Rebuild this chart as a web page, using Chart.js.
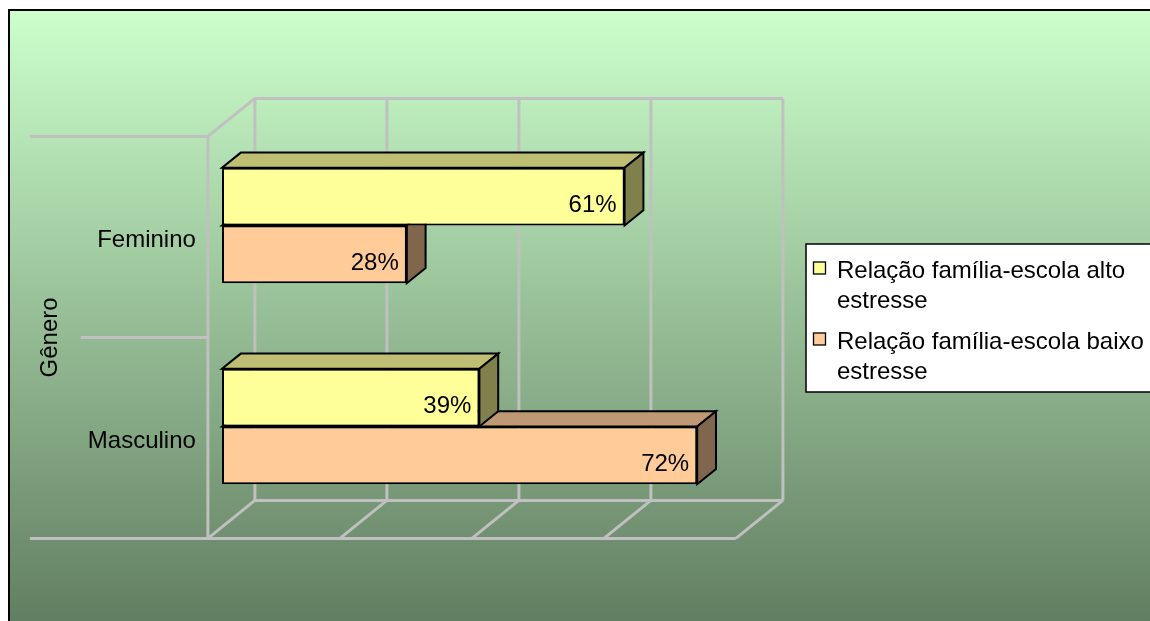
<!DOCTYPE html>
<html>
<head>
<meta charset="utf-8">
<script src="https://cdn.jsdelivr.net/npm/chart.js@4.4.1/dist/chart.umd.min.js"></script>
<style>
  html, body { margin: 0; padding: 0; background: #fff; overflow: hidden; }
  canvas { display: block; }
</style>
</head>
<body>
<canvas id="generoChart" width="1150" height="621"></canvas>
<script>
const categories = ["Feminino", "Masculino"];
const altoEstresse = [61, 39];
const baixoEstresse = [28, 72];
const seriesNames = ["Relação família-escola alto estresse", "Relação família-escola baixo estresse"];
const axisTicks = [0, 20, 40, 60, 80];
const axisTitle = "Gênero";

const FONT = "24px 'Liberation Sans', Arial, sans-serif";
const GRID = "#c0c0c0";

// depth of the 3D box and where the bars sit inside it
const depth = { dx: 47, dy: -38 };
const barFront = 0.3;
const barBack = 0.7;

const faces = [
	{ front: "#ffff99", top: "#bfbf73", side: "#80804d" },
	{ front: "#ffcc99", top: "#bf9973", side: "#80664d" }
];

function shift(p, f) {
	return { x: p.x + depth.dx * f, y: p.y + depth.dy * f };
}

function poly(ctx, pts, fill, stroke, width) {
	ctx.beginPath();
	ctx.moveTo(pts[0].x, pts[0].y);
	for (let i = 1; i < pts.length; i++) ctx.lineTo(pts[i].x, pts[i].y);
	if (fill) {
		ctx.closePath();
		ctx.fillStyle = fill;
		ctx.fill();
	}
	ctx.strokeStyle = stroke;
	ctx.lineWidth = width;
	ctx.stroke();
}

const backdrop = {
	id: "backdrop",
	beforeDraw(chart) {
		const ctx = chart.ctx;
		ctx.save();
		ctx.fillStyle = "#ffffff";
		ctx.fillRect(0, 0, chart.width, chart.height);
		const g = ctx.createLinearGradient(0, 10, 0, 621);
		g.addColorStop(0, "#ccffcc");
		g.addColorStop(1, "#627e62");
		ctx.fillStyle = g;
		ctx.fillRect(9, 10, chart.width, chart.height);
		// chart frame: only the left and top edges fall inside the canvas
		poly(ctx, [{ x: 9, y: chart.height }, { x: 9, y: 10 }, { x: chart.width, y: 10 }], null, "#000", 2);
		ctx.restore();
	}
};

// walls, floor and gridlines of the 3D box
const box3d = {
	id: "box3d",
	beforeDatasetsDraw(chart) {
		const ctx = chart.ctx;
		const xs = chart.scales.x, a = chart.chartArea;
		const fTop = shift({ x: 0, y: a.top }, -barFront).y;
		const fBot = shift({ x: 0, y: a.bottom }, -barFront).y;
		const fx = v => xs.getPixelForValue(v) - depth.dx * barFront;
		const x0 = fx(axisTicks[0]);
		const xN = fx(axisTicks[axisTicks.length - 1]);
		ctx.save();
		ctx.lineCap = "butt";
		// back wall verticals and floor slants
		axisTicks.forEach(t => {
			const f = { x: fx(t), y: fBot };
			const b = shift(f, 1);
			poly(ctx, [{ x: b.x, y: fTop + depth.dy }, b], null, GRID, 3);
			poly(ctx, [f, b], null, GRID, 3);
		});
		poly(ctx, [{ x: x0 + depth.dx, y: fTop + depth.dy }, { x: xN + depth.dx, y: fTop + depth.dy }], null, GRID, 3);
		poly(ctx, [{ x: x0 + depth.dx, y: fBot + depth.dy }, { x: xN + depth.dx, y: fBot + depth.dy }], null, GRID, 3);
		poly(ctx, [{ x: x0, y: fTop }, { x: x0 + depth.dx, y: fTop + depth.dy }], null, GRID, 3);
		poly(ctx, [{ x: x0, y: fTop }, { x: x0, y: fBot }], null, GRID, 3);
		poly(ctx, [{ x: 30, y: fBot }, { x: xN, y: fBot }], null, GRID, 3);
		// category dividers on the left
		const lead = [178, 127, 178];
		const mid = (fTop + fBot) / 2;
		[fTop, mid, fBot].forEach((y, i) => {
			poly(ctx, [{ x: x0 - lead[i], y: y }, { x: x0, y: y }], null, GRID, 3);
		});
		// category labels
		ctx.fillStyle = "#000";
		ctx.font = FONT;
		ctx.textAlign = "right";
		ctx.textBaseline = "middle";
		chart.data.labels.forEach((lab, i) => {
			const y = chart.scales.y.getPixelForValue(i) - depth.dy * barFront + 3;
			ctx.fillText(lab, x0 - 12, y);
		});
		// axis title
		ctx.translate(50, mid);
		ctx.rotate(-Math.PI / 2);
		ctx.textAlign = "center";
		ctx.fillText(axisTitle, 0, 0);
		ctx.restore();
	},
	beforeDatasetDraw(chart, args) {
		const ctx = chart.ctx;
		const c = faces[args.index];
		const d = barBack - barFront;
		ctx.save();
		ctx.lineJoin = "miter";
		args.meta.data.forEach(bar => {
			const top = bar.y - bar.height / 2, bot = bar.y + bar.height / 2;
			const tl = { x: bar.base, y: top }, tr = { x: bar.x, y: top }, br = { x: bar.x, y: bot };
			poly(ctx, [tl, tr, shift(tr, d), shift(tl, d)], c.top, "#000", 2);
			poly(ctx, [tr, shift(tr, d), shift(br, d), br], c.side, "#000", 2);
		});
		ctx.restore();
	},
	afterDatasetsDraw(chart) {
		const ctx = chart.ctx;
		ctx.save();
		ctx.fillStyle = "#000";
		ctx.font = FONT;
		ctx.textAlign = "right";
		ctx.textBaseline = "middle";
		chart.data.datasets.forEach((ds, di) => {
			chart.getDatasetMeta(di).data.forEach((bar, i) => {
				ctx.fillText(ds.data[i] + "%", bar.x - 8, bar.y + 9);
			});
		});
		ctx.restore();
	}
};

// legend box with wrapped series names
const sideLegend = {
	id: "sideLegend",
	afterDraw(chart) {
		const ctx = chart.ctx;
		const bx = 806, by = 244, bw = 360, bh = 148;
		ctx.save();
		ctx.fillStyle = "#fff";
		ctx.fillRect(bx, by, bw, bh);
		poly(ctx, [{ x: bx + bw, y: by }, { x: bx, y: by }, { x: bx, y: by + bh }, { x: bx + bw, y: by + bh }], null, "#000", 1.5);
		ctx.font = FONT;
		ctx.textAlign = "left";
		ctx.textBaseline = "alphabetic";
		let base = 278;
		chart.data.datasets.forEach((ds, i) => {
			ctx.fillStyle = faces[i].front;
			ctx.fillRect(813.5, base - 16, 12, 12);
			ctx.strokeStyle = "#000";
			ctx.lineWidth = 1.3;
			ctx.strokeRect(813.5, base - 16, 12, 12);
			const words = ds.label.split(" ");
			const lines = [];
			let line = "";
			words.forEach(w => {
				const test = line ? line + " " + w : w;
				if (ctx.measureText(test).width > 320 && line) {
					lines.push(line);
					line = w;
				} else {
					line = test;
				}
			});
			lines.push(line);
			ctx.fillStyle = "#000";
			lines.forEach((l, k) => ctx.fillText(l, 837, base + k * 30));
			base += 71;
		});
		ctx.restore();
	}
};

new Chart(document.getElementById("generoChart"), {
	type: "bar",
	data: {
		labels: categories,
		datasets: [
			{
				label: seriesNames[0],
				data: altoEstresse,
				backgroundColor: faces[0].front,
				borderColor: "#000",
				borderWidth: 2,
				borderSkipped: false
			},
			{
				label: seriesNames[1],
				data: baixoEstresse,
				backgroundColor: faces[1].front,
				borderColor: "#000",
				borderWidth: 2,
				borderSkipped: false
			}
		]
	},
	options: {
		indexAxis: "y",
		responsive: false,
		animation: false,
		layout: { padding: { left: 222, right: 400, top: 125, bottom: 94 } },
		datasets: { bar: { categoryPercentage: 0.574, barPercentage: 1 } },
		plugins: { legend: { display: false }, tooltip: { enabled: false } },
		scales: {
			x: { display: false, min: axisTicks[0], max: axisTicks[axisTicks.length - 1] },
			y: { display: false }
		}
	},
	plugins: [backdrop, box3d, sideLegend]
});
</script>
</body>
</html>
